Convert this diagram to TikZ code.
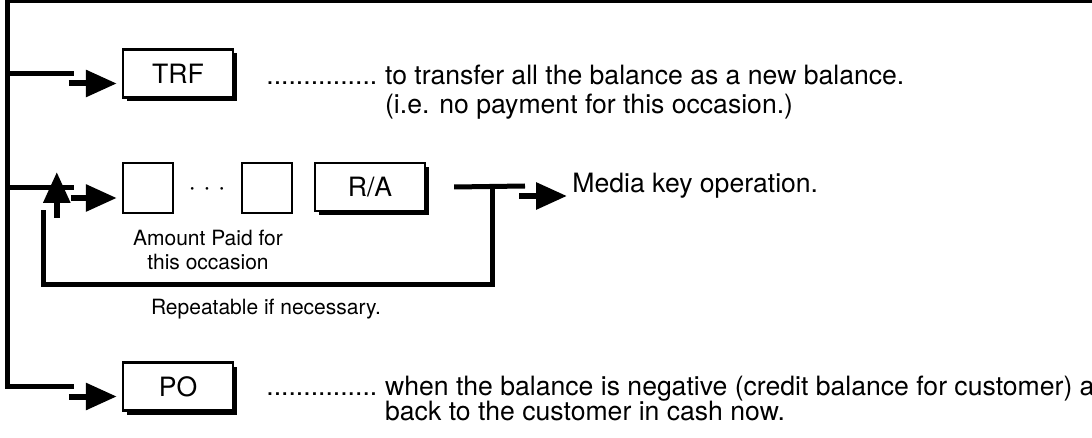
\documentclass[tikz,border=0pt]{standalone}
\usepackage{fontspec}
\setmainfont{TeX Gyre Heros}
\usetikzlibrary{arrows.meta,positioning,shadows}

\begin{document}
\begin{tikzpicture}[x=0.5pt, y=-0.5pt,
    % Node styles
    key/.style={draw, line width=1.2pt, fill=white, minimum width=55pt, minimum height=24pt, inner sep=0pt, font=\fontsize{13.3}{15}\selectfont,
      drop shadow={shadow xshift=2pt, shadow yshift=-2pt, fill=black, opacity=1}},
    blank/.style={draw, line width=1.2pt, fill=white, minimum width=25pt, minimum height=25pt, inner sep=0pt},
    desc/.style={inner sep=0pt, font=\fontsize{13.3}{15}\selectfont},
    note/.style={inner sep=0pt, align=center, font=\fontsize{10.5}{12}\selectfont},
    heavy/.style={line width=2.5pt},
    pointer/.style={-{Triangle[length=15.5pt, width=13pt]}, line width=3pt, shorten >=2.5pt}
]
\useasboundingbox (0,0) rectangle (1092,438);
\clip (0,0) rectangle (1092,438);

% Keys
\node[key] (trf) at (178,73.5) {TRF};
\node[blank] (amt1) at (148,188) {};
\node[desc, anchor=base] (ellipsis) at (207,196) {· · ·};
\node[blank] (amt2) at (267,188) {};
\node[key] (ra) at (370,187) {R/A};
\node[key] (po) at (178,386.5) {PO};

% Texts
\node[desc, anchor=base west] (trfdots) at (266,85) {...............};
\node[desc, anchor=base west] (trfline) at ([xshift=3.5pt]trfdots.base east) {to transfer all the balance as a new balance.};
\node[desc, anchor=base west] (trfnote) at ([yshift=-14.5pt]trfline.base west) {(i.e. no payment for this occasion.)};
\node[note] (amtnote) at (208,250) {Amount Paid for\\this occasion};
\node[desc, anchor=west] (media) at (572,186) {Media key operation.};
\node[note] (repeat) at (266,309) {Repeatable if necessary.};
\node[desc, anchor=base west] (podots) at (266,395) {...............};
\node[desc, anchor=base west] (poline) at ([xshift=3.5pt]podots.base east) {when the balance is negative (credit balance for customer) a};
\node[desc, anchor=base west] (ponote) at ([yshift=-12.5pt]poline.base west) {back to the customer in cash now.};

% Trunk and branches
\coordinate (corner) at (7.5,1);
\coordinate (edge) at (1100,1);
\draw[heavy] (edge) -- (corner) |- ([xshift=-24pt]po.west);
\draw[heavy] (corner |- trf.west) -- ([xshift=-24pt]trf.west);
\draw[heavy] (corner |- amt1.west) -- ([xshift=-24pt]amt1.west);

% Pointers into keys
\draw[pointer] ([xshift=-26.5pt,yshift=-5pt]trf.west) -- ([yshift=-5pt]trf.west);
\draw[pointer] ([xshift=-25.5pt,yshift=-5pt]amt1.west) -- ([yshift=-5pt]amt1.west);
\draw[pointer] ([xshift=-26.5pt,yshift=-5pt]po.west) -- ([yshift=-5pt]po.west);
\draw[pointer, shorten >=0pt] ([xshift=-32.5pt,yshift=-15pt]amt1.west) -- ([xshift=-32.5pt,yshift=8pt]amt1.west);

% Repeat loop
\coordinate (tee) at ([xshift=33pt]ra.east);
\coordinate (loopcorner) at (43.5,285);
\coordinate (loopend) at (43.5,210);
\draw[heavy] ([xshift=14pt]ra.east) -- ([xshift=-23.5pt]media.west);
\draw[pointer] ([xshift=-26.5pt,yshift=-5pt]media.west) -- ([yshift=-5pt]media.west);
\draw[heavy] (tee) |- (loopcorner) -- (loopend);

\end{tikzpicture}
\end{document}
